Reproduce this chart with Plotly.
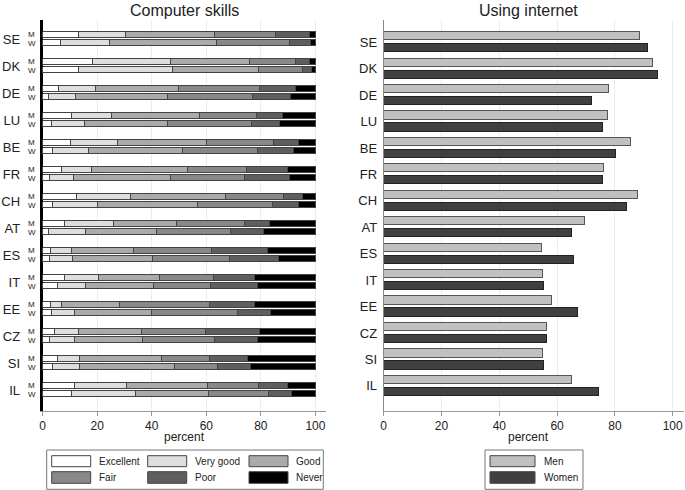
import plotly.graph_objects as go

# data
countries = ["SE", "DK", "DE", "LU", "BE", "FR", "CH", "AT", "ES", "IT", "EE", "CZ", "SI", "IL"]
skill_levels = ["Excellent", "Very good", "Good", "Fair", "Poor", "Never"]
skill_colors = ["#ffffff", "#dedede", "#aaaaaa", "#888888", "#5e5e5e", "#000000"]

excellent_men = [13.3, 18.5, 5.7, 10.5, 10.3, 6.8, 12.3, 8.2, 3.1, 8.1, 2.8, 4.4, 5.4, 11.9]
verygood_men = [17.3, 28.4, 13.9, 14.9, 17.2, 11.0, 20.0, 18.0, 7.7, 12.3, 4.3, 8.8, 8.3, 18.9]
good_men = [32.4, 29.1, 30.2, 32.1, 32.5, 35.3, 34.9, 23.1, 22.7, 22.6, 21.0, 23.0, 30.1, 29.6]
fair_men = [22.3, 16.9, 29.8, 21.0, 24.6, 21.8, 21.2, 24.7, 28.4, 19.7, 33.0, 23.6, 17.6, 18.7]
poor_men = [12.5, 4.9, 13.1, 9.4, 9.4, 14.8, 7.1, 9.1, 20.6, 14.9, 16.5, 19.8, 13.7, 10.6]
never_men = [2.2, 2.2, 7.3, 12.1, 6.0, 10.3, 4.5, 16.9, 17.5, 22.4, 22.4, 20.4, 24.9, 10.3]

excellent_women = [6.6, 13.3, 2.1, 3.3, 3.7, 2.7, 3.5, 2.3, 2.7, 5.4, 3.3, 2.4, 3.7, 10.6]
verygood_women = [18.0, 34.4, 9.9, 12.0, 13.2, 8.8, 16.8, 13.5, 8.4, 10.4, 8.4, 9.2, 10.0, 23.5]
good_women = [39.2, 31.4, 33.7, 30.4, 34.3, 35.4, 36.4, 25.9, 29.1, 24.9, 28.4, 25.1, 34.6, 26.9]
fair_women = [26.7, 16.3, 31.2, 31.0, 27.5, 27.1, 27.5, 27.4, 28.4, 21.0, 31.4, 26.5, 15.8, 21.9]
poor_women = [7.8, 3.3, 14.1, 10.1, 13.2, 16.5, 9.8, 12.0, 18.0, 17.0, 12.0, 15.5, 12.3, 8.5]
never_women = [1.7, 1.3, 9.0, 13.2, 8.1, 9.5, 6.0, 18.9, 13.4, 21.3, 16.5, 21.3, 23.6, 8.6]

internet_men = [88.7, 93.2, 77.7, 77.5, 85.5, 76.0, 87.9, 69.4, 54.6, 54.9, 58.0, 56.3, 54.9, 65.1]
internet_women = [91.5, 94.8, 71.9, 75.8, 80.4, 75.9, 84.1, 65.2, 65.6, 55.5, 67.0, 56.4, 55.5, 74.4]

men_series = [excellent_men, verygood_men, good_men, fair_men, poor_men, never_men]
women_series = [excellent_women, verygood_women, good_women, fair_women, poor_women, never_women]

W, H = 685, 490
FONT = "Liberation Sans, Arial, sans-serif"


def px_x(p):
    return p / W


def px_y(p):
    return 1 - p / H


def label(text, x, y, size, anchor="center", yref="paper"):
    # text placed by pixel position, anchors set explicitly
    return dict(text=text, x=px_x(x), y=px_y(y) if yref == "paper" else y,
                xref="paper", yref=yref, xanchor=anchor, yanchor="middle",
                showarrow=False, font=dict(size=size, color="#222222"))


idx = list(range(len(countries)))
fig = go.Figure()

# left panel: stacked skill bars, men above women
off_l = 0.155
for level, color, m, w in zip(skill_levels, skill_colors, men_series, women_series):
    fig.add_trace(go.Bar(
        x=m + w,
        y=[i - off_l for i in idx] + [i + off_l for i in idx],
        orientation="h",
        width=0.21,
        name=level,
        marker=dict(color=color, line=dict(color="#444444", width=1)),
        xaxis="x", yaxis="y",
        showlegend=False,
    ))

# right panel: internet use
off_r = 0.227
fig.add_trace(go.Bar(
    x=internet_men, y=[i - off_r for i in idx], orientation="h", width=0.31,
    name="Men", marker=dict(color="#c0c0c0", line=dict(color="#555555", width=1)),
    xaxis="x2", yaxis="y2", showlegend=False,
))
fig.add_trace(go.Bar(
    x=internet_women, y=[i + off_r for i in idx], orientation="h", width=0.31,
    name="Women", marker=dict(color="#404040", line=dict(color="#222222", width=1)),
    xaxis="x2", yaxis="y2", showlegend=False,
))

xcommon = dict(
    range=[0, 104], tickvals=[0, 20, 40, 60, 80, 100],
    showgrid=True, gridcolor="#ececec", gridwidth=1,
    showline=True, linecolor="#999999", linewidth=1,
    ticks="outside", ticklen=4, tickcolor="#999999",
    tickfont=dict(size=12, color="#222222"), zeroline=False, automargin=False,
)
ydom = [px_y(410.7), px_y(20)]

fig.update_layout(
    width=W, height=H,
    margin=dict(l=0, r=0, t=0, b=0, autoexpand=False),
    paper_bgcolor="white", plot_bgcolor="white",
    barmode="stack", bargap=0,
    font=dict(family=FONT, color="#222222"),
    xaxis=dict(domain=[px_x(42.7), px_x(42.7 + 104 * 2.727)], anchor="y", **xcommon),
    yaxis=dict(
        domain=ydom, anchor="x", range=[13.767, -0.704],
        tickvals=idx, ticktext=countries, ticks="", ticklabelstandoff=17,
        tickfont=dict(size=13, color="#222222"),
        showgrid=False, zeroline=False, automargin=False,
        showline=True, linecolor="#000000", linewidth=3, layer="below traces",
    ),
    xaxis2=dict(domain=[px_x(383.7), px_x(383.7 + 104 * 2.89)], anchor="y2", **xcommon),
    yaxis2=dict(
        domain=ydom, anchor="x2", range=[13.94, -0.84],
        tickvals=idx, ticktext=countries, ticks="", ticklabelstandoff=3,
        tickfont=dict(size=13, color="#222222"),
        showgrid=False, zeroline=False, automargin=False,
        showline=True, linecolor="#888888", linewidth=1,
    ),
)

annotations = [
    label("Computer skills", 184, 10, 16),
    label("Using internet", 528, 10, 16),
    label("percent", 184, 437, 12),
    label("percent", 528, 437, 12),
]
for i in idx:
    for lab, off in (("M", -off_l), ("W", off_l)):
        annotations.append(label(lab, 32, i + off, 8, yref="y"))

shapes = []
# left legend box (drawn by hand to get wide swatches)
shapes.append(dict(type="rect", xref="paper", yref="paper",
                   x0=px_x(46.7), x1=px_x(323.3), y0=px_y(489.3), y1=px_y(450),
                   line=dict(color="#777777", width=1), fillcolor="white"))
col_x = [51.7, 147.7, 249]
row_y = [(455.7, 466.7), (471.7, 483.3)]
for k, (level, color) in enumerate(zip(skill_levels, skill_colors)):
    r, c = divmod(k, 3)
    x0 = col_x[c]
    y0, y1 = row_y[r]
    shapes.append(dict(type="rect", xref="paper", yref="paper",
                       x0=px_x(x0), x1=px_x(x0 + 39), y0=px_y(y1), y1=px_y(y0),
                       line=dict(color="#444444", width=1), fillcolor=color))
    annotations.append(label(level, x0 + 45, (y0 + y1) / 2, 10, anchor="left"))

# right legend
shapes.append(dict(type="rect", xref="paper", yref="paper",
                   x0=px_x(485), x1=px_x(583), y0=px_y(489.3), y1=px_y(450),
                   line=dict(color="#777777", width=1), fillcolor="white"))
for (y0, y1), lab, color in zip(row_y, ["Men", "Women"], ["#c0c0c0", "#404040"]):
    shapes.append(dict(type="rect", xref="paper", yref="paper",
                       x0=px_x(490), x1=px_x(535), y0=px_y(y1), y1=px_y(y0),
                       line=dict(color="#444444", width=1), fillcolor=color))
    annotations.append(label(lab, 542, (y0 + y1) / 2, 10, anchor="left"))

fig.update_layout(annotations=annotations, shapes=shapes)

# drop the default body margin so the figure sits at the window's corner
fig.write_html("out.html", config={"displayModeBar": False},
               post_script="document.body.style.margin='0';")
